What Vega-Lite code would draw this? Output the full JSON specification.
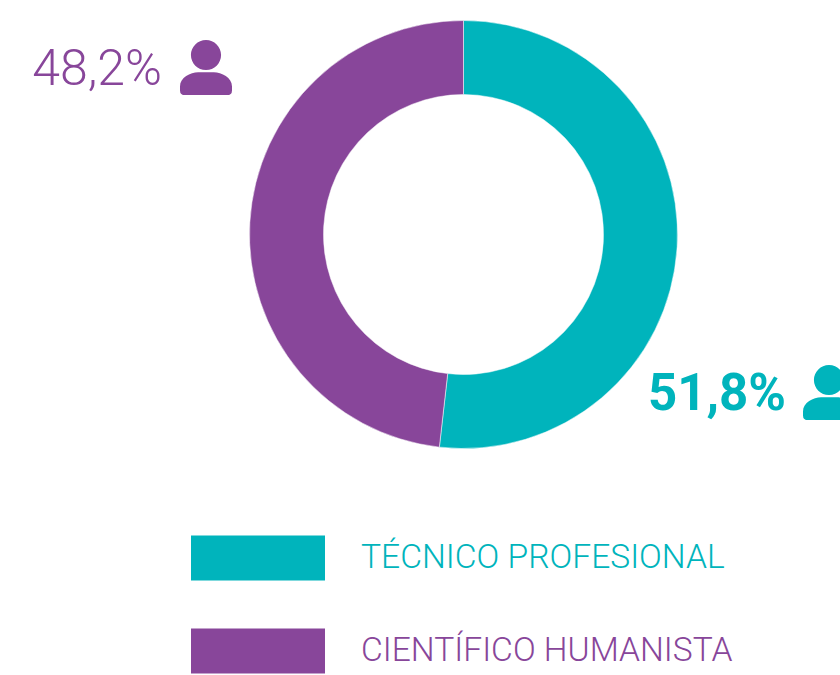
{"$schema":"https://vega.github.io/schema/vega-lite/v6.json","width":840,"height":675,"padding":0,"autosize":{"type":"none"},"background":"white","config":{"view":{"stroke":null}},"data":{"values":[{"tipo":"TÉCNICO PROFESIONAL","porcentaje":51.8,"etiqueta":"51,8%"},{"tipo":"CIENTÍFICO HUMANISTA","porcentaje":48.2,"etiqueta":"48,2%"}]},"resolve":{"scale":{"x":"independent","y":"independent"}},"layer":[{"mark":{"type":"arc","outerRadius":214,"innerRadius":140,"stroke":"white","strokeWidth":0.5},"encoding":{"theta":{"field":"porcentaje","type":"quantitative","stack":true,"scale":{"domain":[0,100],"range":[0,6.283185307]}},"order":{"field":"tipo","sort":"descending"},"x":{"field":"tipo","type":"nominal","axis":null,"scale":{"domain":["TÉCNICO PROFESIONAL","CIENTÍFICO HUMANISTA"],"range":[463.5,463.5],"padding":0}},"y":{"field":"tipo","type":"nominal","axis":null,"scale":{"domain":["TÉCNICO PROFESIONAL","CIENTÍFICO HUMANISTA"],"range":[234.5,234.5],"padding":0}},"color":{"field":"tipo","type":"nominal","scale":{"domain":["TÉCNICO PROFESIONAL","CIENTÍFICO HUMANISTA"],"range":["#00B4BC","#88469A"]},"legend":{"orient":"none","legendX":191,"legendY":491,"title":null,"symbolType":"M-1,-0.336H1V0.336H-1Z","symbolSize":17956,"symbolStrokeWidth":0,"symbolOpacity":1,"labelFont":"Roboto","labelFontWeight":300,"labelFontSize":33.6,"labelLimit":500,"labelOffset":36,"rowPadding":3,"labelColor":{"expr":"datum.value == 'TÉCNICO PROFESIONAL' ? '#00B4BC' : '#88469A'"}}}}},{"mark":{"type":"point","filled":true,"opacity":1,"size":2704,"shape":"M0,-1.04 A0.58,0.58 0 1 1 0,0.12 A0.58,0.58 0 1 1 0,-1.04 Z M-1,0.75 C-1,0.4 -0.6,0.2 -0.3,0.2 L0.3,0.2 C0.6,0.2 1,0.4 1,0.75 L1,0.9 Q1,1.08 0.8,1.08 L-0.8,1.08 Q-1,1.08 -1,0.9 Z"},"encoding":{"x":{"field":"tipo","type":"nominal","axis":null,"scale":{"domain":["CIENTÍFICO HUMANISTA","TÉCNICO PROFESIONAL"],"range":[206,829],"padding":0}},"y":{"field":"tipo","type":"nominal","axis":null,"scale":{"domain":["CIENTÍFICO HUMANISTA","TÉCNICO PROFESIONAL"],"range":[67,392],"padding":0}},"color":{"field":"tipo","type":"nominal","legend":null}}},{"transform":[{"filter":"datum.tipo == 'CIENTÍFICO HUMANISTA'"}],"mark":{"type":"text","align":"right","baseline":"middle","dx":-44,"dy":3,"font":"Roboto","fontWeight":300,"fontSize":50},"encoding":{"text":{"field":"etiqueta"},"x":{"field":"tipo","type":"nominal","axis":null,"scale":{"domain":["CIENTÍFICO HUMANISTA","TÉCNICO PROFESIONAL"],"range":[206,829],"padding":0}},"y":{"field":"tipo","type":"nominal","axis":null,"scale":{"domain":["CIENTÍFICO HUMANISTA","TÉCNICO PROFESIONAL"],"range":[67,392],"padding":0}},"color":{"field":"tipo","type":"nominal","legend":null}}},{"transform":[{"filter":"datum.tipo == 'TÉCNICO PROFESIONAL'"}],"mark":{"type":"text","align":"right","baseline":"middle","dx":-43,"dy":3,"font":"Roboto","fontSize":51,"fontWeight":"bold"},"encoding":{"text":{"field":"etiqueta"},"x":{"field":"tipo","type":"nominal","axis":null,"scale":{"domain":["CIENTÍFICO HUMANISTA","TÉCNICO PROFESIONAL"],"range":[206,829],"padding":0}},"y":{"field":"tipo","type":"nominal","axis":null,"scale":{"domain":["CIENTÍFICO HUMANISTA","TÉCNICO PROFESIONAL"],"range":[67,392],"padding":0}},"color":{"field":"tipo","type":"nominal","legend":null}}}]}
